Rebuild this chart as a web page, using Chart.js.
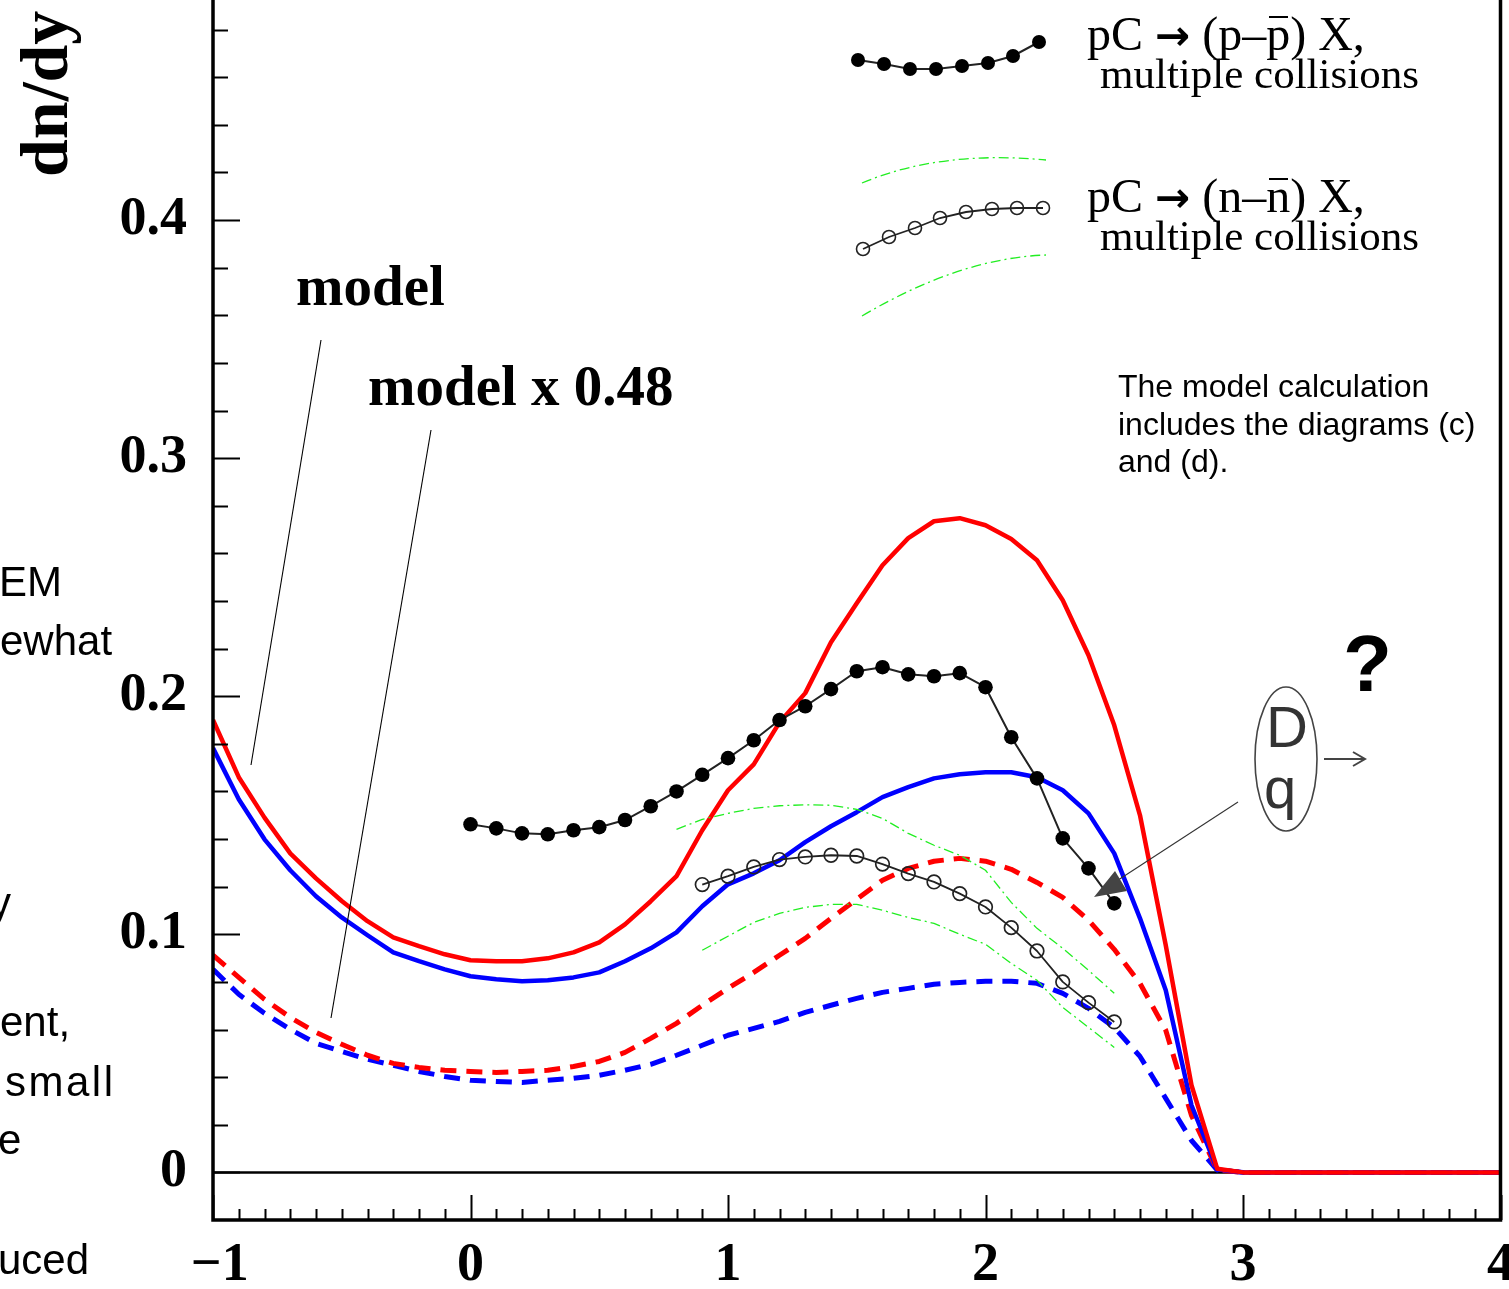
<!DOCTYPE html>
<html><head><meta charset="utf-8">
<script src="https://cdn.jsdelivr.net/npm/chart.js@4.4.0/dist/chart.umd.min.js"></script>
<style>
html,body{margin:0;padding:0;background:#fff;width:1509px;height:1289px;overflow:hidden;position:relative;}
#wrap{position:absolute;left:0;top:-50px;width:1509px;height:1339px;}
.t{position:absolute;white-space:nowrap;color:#000;z-index:5;}
.arr{font-family:"DejaVu Sans",sans-serif;font-weight:bold;font-size:42px;}
</style></head><body>
<div id="wrap"><canvas id="c" width="1509" height="1339"></canvas></div>
<script>
// ---------------- data ----------------
const modelX = [-1.0,-0.9,-0.8,-0.7,-0.6,-0.5,-0.4,-0.3,-0.2,-0.1,0.0,0.1,0.2,0.3,0.4,0.5,0.6,0.7,0.8,0.9,1.0,1.1,1.2,1.3,1.4,1.5,1.6,1.7,1.8,1.9,2.0,2.1,2.2,2.3,2.4,2.5,2.6,2.7,2.8,2.9,3.0,4.0];
const modelFull = [0.190,0.166,0.149,0.134,0.1235,0.114,0.1055,0.0987,0.095,0.0916,0.0891,0.0887,0.0887,0.0899,0.0924,0.0966,0.1042,0.1139,0.1244,0.1437,0.1605,0.1714,0.189,0.2013,0.2227,0.2391,0.255,0.2664,0.2735,0.2748,0.2718,0.266,0.2571,0.2403,0.2172,0.1878,0.150,0.0954,0.0366,0.0015,0,0];
const modelCharged = [0.1782,0.1567,0.1399,0.1269,0.1160,0.1071,0.0996,0.0924,0.0887,0.0853,0.0824,0.0811,0.0803,0.0807,0.0819,0.0840,0.0887,0.0941,0.1008,0.1118,0.1210,0.1256,0.1311,0.1387,0.1454,0.1513,0.1576,0.1618,0.1655,0.1672,0.1681,0.1681,0.1660,0.1605,0.1508,0.1340,0.1067,0.0765,0.0282,0.0012,0,0];
const modelFullScaled = [0.0912,0.0819,0.0727,0.0651,0.0588,0.0538,0.0492,0.0458,0.0441,0.0429,0.0424,0.0420,0.0424,0.0429,0.0445,0.0466,0.0504,0.0563,0.0626,0.0702,0.0773,0.0840,0.0912,0.0983,0.1067,0.1147,0.1227,0.1277,0.1307,0.1319,0.1307,0.1273,0.1218,0.1155,0.1059,0.0937,0.0794,0.0597,0.0239,0.0010,0,0];
const modelChargedScaled = [0.0853,0.0748,0.0668,0.0601,0.0542,0.0508,0.0475,0.0450,0.0424,0.0403,0.0387,0.0382,0.0378,0.0387,0.0395,0.0408,0.0429,0.0454,0.0492,0.0534,0.0576,0.0605,0.0634,0.0672,0.0702,0.0731,0.0756,0.0773,0.0790,0.0798,0.0803,0.0803,0.0794,0.0752,0.0689,0.0609,0.0487,0.0311,0.0134,0.0010,0,0];

const ppbarX = [0.0,0.1,0.2,0.3,0.4,0.5,0.6,0.7,0.8,0.9,1.0,1.1,1.2,1.3,1.4,1.5,1.6,1.7,1.8,1.9,2.0,2.1,2.2,2.3,2.4,2.5];
const ppbarY = [0.1462,0.1445,0.1424,0.1420,0.1437,0.1450,0.1480,0.1538,0.1600,0.1670,0.1740,0.1815,0.1900,0.1958,0.2030,0.2105,0.2122,0.2092,0.2084,0.2097,0.2038,0.1828,0.1655,0.1403,0.1277,0.1130];

const nnbarX = [0.9,1.0,1.1,1.2,1.3,1.4,1.5,1.6,1.7,1.8,1.9,2.0,2.1,2.2,2.3,2.4,2.5];
const nnbarY = [0.1209,0.1244,0.1283,0.1314,0.1325,0.1332,0.1329,0.1295,0.1255,0.1220,0.1171,0.1115,0.1028,0.0930,0.0800,0.0713,0.0632];

const bandUpX = [0.8,0.9,1.0,1.1,1.2,1.3,1.4,1.5,1.6,1.7,1.8,1.9,2.0,2.1,2.2,2.3,2.4,2.5];
const bandUpY = [0.1441,0.1483,0.1508,0.1529,0.1540,0.1544,0.1542,0.1525,0.1487,0.1424,0.1374,0.1332,0.1269,0.1134,0.1025,0.0941,0.0849,0.0752];
const bandLoX = [0.9,1.0,1.1,1.2,1.3,1.4,1.5,1.6,1.7,1.8,1.9,2.0,2.1,2.2,2.3,2.4,2.5];
const bandLoY = [0.0933,0.0992,0.1050,0.1088,0.1113,0.1126,0.1126,0.1101,0.1071,0.1046,0.1000,0.0958,0.0878,0.0807,0.0693,0.0609,0.0525];

const xTickValues = [-1,0,1,2,3,4];
const xTickLabels = [' \u22121','0','1','2','3','4'];
const yTickValues = [0,0.1,0.2,0.3,0.4,0.5];
const yTickLabels = ['0','0.1','0.2','0.3','0.4','0.5'];

// ---------------- helpers ----------------
const OFF = 50; // canvas is shifted up by this much
const pts = (xs, ys) => xs.map((x, i) => ({x: x, y: ys[i]}));
const SERIF = '"Liberation Serif","Times New Roman",serif';
const SANS = '"Liberation Sans",Arial,sans-serif';

function line(ds, color, width, dash) {
  return Object.assign({
    borderColor: color, borderWidth: width, borderDash: dash || [],
    pointRadius: 0, pointHoverRadius: 0, fill: false, tension: 0,
    borderCapStyle: 'butt', borderJoinStyle: 'round'
  }, ds);
}

const framePlugin = {
  id: 'frame',
  beforeDatasetsDraw(chart) {
    const {ctx, chartArea: a, scales: {y}} = chart;
    const y0 = y.getPixelForValue(0);
    ctx.save();
    ctx.strokeStyle = '#000'; ctx.lineWidth = 2.5;
    ctx.beginPath(); ctx.moveTo(a.left, y0); ctx.lineTo(a.right, y0); ctx.stroke();
    ctx.restore();
  },
  afterDatasetsDraw(chart) {
    const {ctx, chartArea: a, scales: {x, y}} = chart;
    ctx.save();
    ctx.strokeStyle = '#000';
    ctx.lineWidth = 3.5;
    ctx.beginPath();
    ctx.moveTo(a.left, 0); ctx.lineTo(a.left, a.bottom); ctx.lineTo(a.right, a.bottom); ctx.lineTo(a.right, 0);
    ctx.stroke();
    ctx.lineWidth = 2;
    ctx.beginPath();
    for (let k = 0; k <= 25; k++) {
      const v = k * 0.02, p = Math.round(y.getPixelForValue(v)) + 0.5;
      const len = (k % 5 === 0) ? 27 : 15;
      ctx.moveTo(a.left, p); ctx.lineTo(a.left + len, p);
    }
    for (let k = 0; k <= 50; k++) {
      const v = -1 + k * 0.1, p = Math.round(x.getPixelForValue(v)) + 0.5;
      const len = (k % 10 === 0) ? 25 : 11;
      ctx.moveTo(p, a.bottom); ctx.lineTo(p, a.bottom - len);
    }
    ctx.stroke();
    ctx.restore();
  }
};

const decoPlugin = {
  id: 'deco',
  afterDraw(chart) {
    const ctx = chart.ctx;
    const P = (x, y) => [x, y + OFF];
    ctx.save();
    // legend sample: filled dots
    const l1 = [[858,60],[884,64],[910,69],[936,69],[962,66],[988,63],[1013,56],[1039,42]];
    ctx.strokeStyle = '#222'; ctx.lineWidth = 2;
    ctx.beginPath();
    l1.forEach((q, i) => { const [px, py] = P(q[0], q[1]); i ? ctx.lineTo(px, py) : ctx.moveTo(px, py); });
    ctx.stroke();
    ctx.fillStyle = '#000';
    l1.forEach(q => { const [px, py] = P(q[0], q[1]); ctx.beginPath(); ctx.arc(px, py, 7, 0, 2*Math.PI); ctx.fill(); });
    // legend sample: open circles
    const l2 = [[863,249],[889,237],[915,228],[940,218],[966,212],[992,209],[1017,208],[1043,208]];
    ctx.strokeStyle = '#222'; ctx.lineWidth = 1.8;
    ctx.beginPath();
    l2.forEach((q, i) => { const [px, py] = P(q[0], q[1]); i ? ctx.lineTo(px, py) : ctx.moveTo(px, py); });
    ctx.stroke();
    ctx.lineWidth = 1.6;
    l2.forEach(q => { const [px, py] = P(q[0], q[1]); ctx.beginPath(); ctx.arc(px, py, 6.5, 0, 2*Math.PI); ctx.stroke(); });
    // legend sample: green band
    ctx.strokeStyle = '#22ee22'; ctx.lineWidth = 1.3; ctx.setLineDash([10,4,2,4]);
    ctx.beginPath(); ctx.moveTo(...P(862,183)); ctx.quadraticCurveTo(...P(940,150), ...P(1046,160)); ctx.stroke();
    ctx.beginPath(); ctx.moveTo(...P(862,316)); ctx.quadraticCurveTo(...P(960,258), ...P(1046,255)); ctx.stroke();
    ctx.setLineDash([]);
    // pointer lines
    ctx.strokeStyle = '#000'; ctx.lineWidth = 1.1;
    ctx.beginPath(); ctx.moveTo(...P(321,340)); ctx.lineTo(...P(251,765)); ctx.stroke();
    ctx.beginPath(); ctx.moveTo(...P(431,430)); ctx.lineTo(...P(331,1018)); ctx.stroke();
    // ellipse
    ctx.strokeStyle = '#444'; ctx.lineWidth = 1.6;
    ctx.beginPath(); ctx.ellipse(1286, 759 + OFF, 31, 72, 0, 0, 2*Math.PI); ctx.stroke();
    // small arrow
    ctx.strokeStyle = '#444'; ctx.lineWidth = 2;
    ctx.beginPath(); ctx.moveTo(...P(1324,759)); ctx.lineTo(...P(1364,759));
    ctx.moveTo(...P(1353,752)); ctx.lineTo(...P(1365,759)); ctx.lineTo(...P(1353,766)); ctx.stroke();
    // big pointer arrow
    ctx.strokeStyle = '#333'; ctx.lineWidth = 1.1;
    ctx.beginPath(); ctx.moveTo(...P(1238,802)); ctx.lineTo(...P(1112,884)); ctx.stroke();
    ctx.fillStyle = '#444';
    ctx.beginPath(); ctx.moveTo(...P(1094,897)); ctx.lineTo(...P(1115,871)); ctx.lineTo(...P(1127,891)); ctx.closePath(); ctx.fill();
    ctx.restore();
  }
};

const ctx = document.getElementById('c').getContext('2d');
new Chart(ctx, {
  type: 'line',
  data: {
    datasets: [
      line({data: pts(ppbarX, ppbarY), pointRadius: 7.3, pointBackgroundColor: '#000', pointBorderColor: '#000', pointBorderWidth: 0}, '#222', 2),
      line({data: pts(nnbarX, nnbarY), pointRadius: 6.8, pointBackgroundColor: 'rgba(0,0,0,0)', pointBorderColor: '#222', pointBorderWidth: 1.7}, '#222', 1.8),
      line({data: pts(bandUpX, bandUpY)}, '#22ee22', 1.3, [10,4,2,4]),
      line({data: pts(bandLoX, bandLoY)}, '#22ee22', 1.3, [10,4,2,4]),
      line({data: pts(modelX, modelFull)}, '#ff0000', 4.5),
      line({data: pts(modelX, modelCharged)}, '#0000ff', 4.5),
      line({data: pts(modelX, modelFullScaled)}, '#ff0000', 5, [16,10]),
      line({data: pts(modelX, modelChargedScaled)}, '#0000ff', 5, [16,10])
    ]
  },
  options: {
    responsive: false, animation: false, events: [],
    layout: {padding: {top: 32, right: 6, left: 0, bottom: 0}},
    plugins: {legend: {display: false}, tooltip: {enabled: false}},
    scales: {
      x: {
        type: 'linear', min: -1, max: 4,
        grid: {display: false, drawTicks: false}, border: {display: false},
        afterBuildTicks: s => { s.ticks = xTickValues.map(v => ({value: v})); },
        afterFit: s => { s.height = 69; s.paddingLeft = 0; s.paddingRight = 0; },
        ticks: {autoSkip: false, maxRotation: 0, minRotation: 0, padding: 14, color: '#000',
          font: {family: SERIF, weight: 'bold', size: 54},
          callback: (v, i) => xTickLabels[i]}
      },
      y: {
        type: 'linear', min: -0.02, max: 0.5,
        grid: {display: false, drawTicks: false}, border: {display: false},
        afterBuildTicks: s => { s.ticks = yTickValues.map(v => ({value: v})); },
        afterFit: s => { s.width = 213; s.paddingTop = 0; s.paddingBottom = 0; },
        ticks: {padding: 26, color: '#000',
          font: {family: SERIF, weight: 'bold', size: 54},
          callback: (v, i) => yTickLabels[i]}
      }
    }
  },
  plugins: [framePlugin, decoPlugin]
});

// ---------------- text overlays (page coords, by baseline) ----------------
function addText(html, opt) {
  const d = document.createElement('div');
  d.className = 't';
  const fs = opt.size;
  const k = opt.family === SANS ? 0.8465 : 0.8375;
  d.style.fontFamily = opt.family;
  d.style.fontSize = fs + 'px';
  d.style.lineHeight = fs + 'px';
  d.style.fontWeight = opt.bold ? 'bold' : 'normal';
  if (opt.color) d.style.color = opt.color;
  if (opt.ls) d.style.letterSpacing = opt.ls + 'px';
  d.style.left = opt.left + 'px';
  d.style.top = (opt.base - k * fs) + 'px';
  if (opt.rot) { d.style.transformOrigin = '0 0'; d.style.transform = 'rotate(-90deg)'; d.style.top = opt.top + 'px'; }
  d.innerHTML = html;
  document.body.appendChild(d);
  return d;
}
const bar = (ch) => '<span style="display:inline-block;position:relative">' + ch +
  '<span style="position:absolute;left:3px;right:2px;top:6px;border-top:2.5px solid #000"></span></span>';
const arrow = '<span class="arr">\u2192</span>';

// axis title
addText('dn/dy', {family: SERIF, bold: true, size: 68, left: 10, rot: true, top: 177});
// annotations
addText('model', {family: SERIF, bold: true, size: 57, left: 296, base: 305});
addText('model x 0.48', {family: SERIF, bold: true, size: 57, left: 368, base: 405});
// legend text
addText('pC ' + arrow + ' (p\u2013' + bar('p') + ') X,', {family: SERIF, size: 48, left: 1087, base: 50});
addText('multiple collisions', {family: SERIF, size: 43, left: 1100, base: 88});
addText('pC ' + arrow + ' (n\u2013' + bar('n') + ') X,', {family: SERIF, size: 48, left: 1087, base: 212});
addText('multiple collisions', {family: SERIF, size: 43, left: 1100, base: 250});
// note
addText('The model calculation', {family: SANS, size: 32, left: 1118, base: 397});
addText('includes the diagrams (c)', {family: SANS, size: 32, left: 1118, base: 435});
addText('and (d).', {family: SANS, size: 32, left: 1118, base: 472});
addText('?', {family: SANS, bold: true, size: 80, left: 1343, base: 692});
addText('D', {family: SANS, size: 58, left: 1266, base: 747, color: '#333'});
addText('q', {family: SANS, size: 58, left: 1264, base: 808, color: '#333'});
// clipped slide text at left edge
addText('EM', {family: SANS, size: 42, left: -1, base: 597});
addText('ewhat', {family: SANS, size: 42, left: 0, base: 656});
addText('y', {family: SANS, size: 42, left: -10, base: 918});
addText('ent,', {family: SANS, size: 42, left: 0, base: 1037});
addText('small', {family: SANS, size: 42, left: 5, base: 1097, ls: 2.5});
addText('e', {family: SANS, size: 42, left: -2, base: 1155});
addText('uced', {family: SANS, size: 42, left: -2, base: 1275});
</script>
</body></html>
